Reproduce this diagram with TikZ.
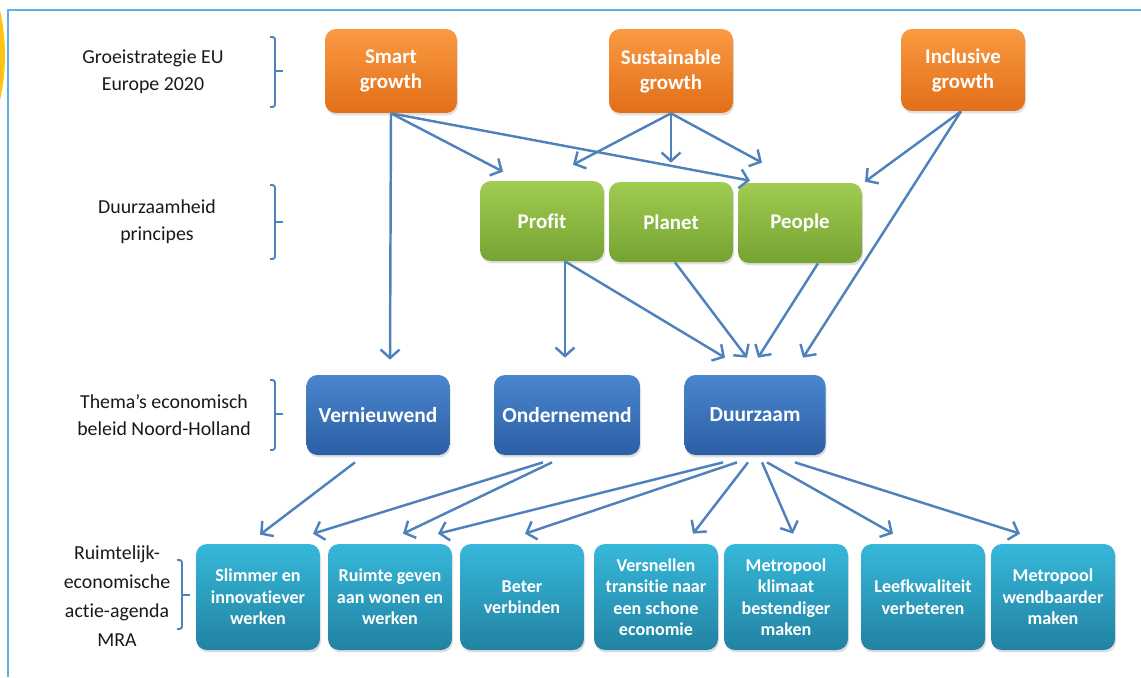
\documentclass[tikz,border=0pt]{standalone}
\usepackage{fontspec}
\setmainfont{Carlito}[Ligatures=NoCommon]
\usetikzlibrary{arrows.meta}
\usetikzlibrary{shadows}
\usepackage{xcolor}

\definecolor{linkblue}{RGB}{79,129,189}
\definecolor{framecyan}{RGB}{96,176,228}
\definecolor{sunyellow}{RGB}{255,196,20}
\definecolor{orangetop}{RGB}{250,154,66}
\definecolor{orangebot}{RGB}{226,110,24}
\definecolor{greentop}{RGB}{160,204,82}
\definecolor{greenbot}{RGB}{118,162,50}
\definecolor{bluetop}{RGB}{74,134,206}
\definecolor{bluebot}{RGB}{44,94,164}
\definecolor{tealtop}{RGB}{54,184,218}
\definecolor{tealbot}{RGB}{34,130,162}

\begin{document}
\begin{tikzpicture}[x=0.02cm,y=0.02cm,
  box/.style={rounded corners=0.22cm, minimum width=2.48cm, minimum height=1.6cm,
    align=center, text=white, inner sep=2pt,
    drop shadow={opacity=0.25, shadow xshift=0.6pt, shadow yshift=-1.4pt}},
  growthbox/.style={box, top color=orangetop, bottom color=orangebot,
    font=\bfseries\fontsize{11.9}{14.2}\selectfont},
  pbox/.style={box, top color=greentop, bottom color=greenbot,
    font=\bfseries\fontsize{11.9}{14.2}\selectfont},
  themebox/.style={box, top color=bluetop, bottom color=bluebot,
    font=\bfseries\fontsize{12.2}{14.6}\selectfont},
  agendabox/.style={box, minimum height=2.12cm, top color=tealtop, bottom color=tealbot,
    font=\bfseries\fontsize{10.3}{12.2}\selectfont},
  levellabel/.style={align=center, text={black!90}, font=\fontsize{11.3}{15.4}\selectfont},
  link/.style={linkblue, line width=1.4pt, -{Straight Barb[length=1.7mm,width=3.8mm]}},
  bracket/.style={linkblue, line width=1.1pt, rounded corners=1.5pt}]

\useasboundingbox (0,0) rectangle (1141,-677);

% frame and the yellow edge on the left
\begin{scope}
\clip (0,0) rectangle (1141,-677);
\fill[sunyellow] (-200,-55) circle [radius=205];
\end{scope}
\draw[framecyan, line width=0.9pt] (1141,-10) -- (8,-10) -- (8,-677);

% level labels
\node[levellabel] (lgroei) at (153,-72) {Groeistrategie EU\\Europe 2020};
\node[levellabel] (lduur) at (157,-222) {Duurzaamheid\\principes};
\node[levellabel] (lthema) at (164,-415) {Thema’s economisch\\beleid Noord-Holland};
\node[levellabel, font=\fontsize{11.3}{16.5}\selectfont] (lmra) at (117,-596) {Ruimtelijk-\\economische\\actie-agenda\\MRA};

\draw[bracket] (270,-37) -- (275,-37) -- (275,-107) -- (270,-107);
\draw[bracket] (275,-71) -- (283,-71);
\draw[bracket] (270,-185) -- (275,-185) -- (275,-259) -- (270,-259);
\draw[bracket] (275,-222) -- (283,-222);
\draw[bracket] (270,-380) -- (275,-380) -- (275,-450) -- (270,-450);
\draw[bracket] (275,-414) -- (283,-414);
\draw[bracket] (177,-560) -- (182,-560) -- (182,-629) -- (177,-629);
\draw[bracket] (182,-595) -- (190,-595);

% Europe 2020
\node[growthbox, minimum width=2.64cm, minimum height=1.68cm] (smart) at (391,-71) {Smart\\growth};
\node[growthbox, minimum height=1.68cm] (sust) at (671,-71) {Sustainable\\growth};
\node[growthbox, minimum height=1.64cm] (incl) at (963,-70) {Inclusive\\growth};

% people planet profit
\node[pbox] (profit) at (542,-221) {Profit};
\node[pbox] (planet) at (671,-222) {Planet};
\node[pbox] (people) at (800,-223) {People};

% themes
\node[themebox, minimum width=2.86cm] (vern) at (378,-415) {Vernieuwend};
\node[themebox, minimum width=2.92cm] (onder) at (567,-415) {Ondernemend};
\node[themebox, minimum width=2.82cm] (duurz) at (755,-415) {Duurzaam};

% MRA agenda
\node[agendabox] (slim) at (258,-597) {Slimmer en\\innovatiever\\werken};
\node[agendabox] (ruimte) at (390,-597) {Ruimte geven\\aan wonen en\\werken};
\node[agendabox] (beter) at (522,-597) {Beter\\verbinden};
\node[agendabox] (versn) at (656,-597) {Versnellen\\transitie naar\\een schone\\economie};
\node[agendabox] (klim) at (786,-597) {Metropool\\klimaat\\bestendiger\\maken};
\node[agendabox] (leef) at (923,-597) {Leefkwaliteit\\verbeteren};
\node[agendabox] (wend) at (1053,-597) {Metropool\\wendbaarder\\maken};

% growth -> principles / themes
\draw[link] (smart.south) -- ([shift={(12,15)}]vern.north);
\draw[link] (smart.south) -- ([shift={(-39,9)}]profit.north);
\draw[link] (smart.south) -- ([shift={(-50,2)}]people.north);
\draw[link] (sust.south) -- ([shift={(31,16)}]profit.north);
\draw[link] (sust.south) -- ([shift={(0,19)}]planet.north);
\draw[link] (sust.south) -- ([shift={(-38,20)}]people.north);
\draw[link] ([shift={(-2,0)}]incl.south) -- ([shift={(65,1)}]people.north);
\draw[link] ([shift={(-2,0)}]incl.south) -- ([shift={(48,17)}]duurz.north);

% principles -> themes
\draw[link] ([shift={(23,0)}]profit.south) -- ([shift={(-2,17)}]onder.north);
\draw[link] ([shift={(23,0)}]profit.south) -- ([shift={(-30,17)}]duurz.north);
\draw[link] ([shift={(4,0)}]planet.south) -- ([shift={(-8,17)}]duurz.north);
\draw[link] ([shift={(18,0)}]people.south) -- ([shift={(3,17)}]duurz.north);

% themes -> agenda
\draw[link] ([shift={(-23,-7)}]vern.south) -- ([shift={(2,9)}]slim.north);
\draw[link] ([shift={(-24,-7)}]onder.south) -- ([shift={(55,10)}]slim.north);
\draw[link] ([shift={(-15,-7)}]onder.south) -- ([shift={(13,10)}]ruimte.north);
\draw[link] ([shift={(-32,-7)}]duurz.south) -- ([shift={(48,10)}]ruimte.north);
\draw[link] ([shift={(-18,-7)}]duurz.south) -- ([shift={(3,10)}]beter.north);
\draw[link] ([shift={(-7,-7)}]duurz.south) -- ([shift={(37,10)}]versn.north);
\draw[link] ([shift={(7,-7)}]duurz.south) -- ([shift={(7,10)}]klim.north);
\draw[link] ([shift={(12,-7)}]duurz.south) -- ([shift={(-30,10)}]leef.north);
\draw[link] ([shift={(40,-7)}]duurz.south) -- ([shift={(-33,10)}]wend.north);

\end{tikzpicture}
\end{document}
